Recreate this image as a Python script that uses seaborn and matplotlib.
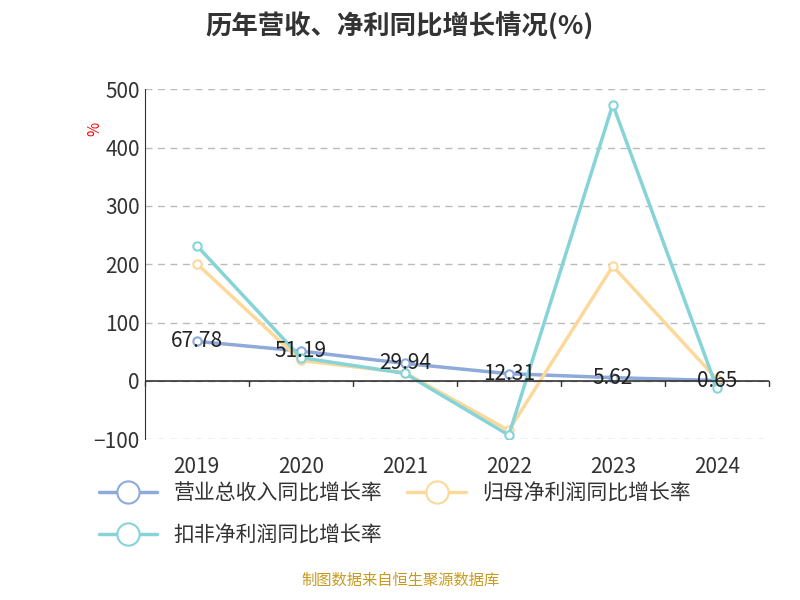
import matplotlib.pyplot as plt
import seaborn as sns
import pandas as pd
from matplotlib.lines import Line2D

sns.set_style("white")
plt.rcParams['font.family'] = ['Noto Sans CJK SC', 'DejaVu Sans']

years = ["2019", "2020", "2021", "2022", "2023", "2024"]
revenue = [67.78, 51.19, 29.94, 12.31, 5.62, 0.65]
net_profit = [201, 35, 14, -85, 197, 3]
deducted = [232, 40, 13, -93, 474, -12]
names = ["营业总收入同比增长率", "归母净利润同比增长率", "扣非净利润同比增长率"]
colors = ["#8eaadb", "#fcd99b", "#86d4d8"]

df = pd.DataFrame({"year": list(range(len(years))) * 3,
                   "value": revenue + net_profit + deducted,
                   "series": sum([[n] * len(years) for n in names], [])})

fig = plt.figure(figsize=(8, 6), dpi=100)
ax = fig.add_axes([0.181, 0.268, 0.78, 0.583])
for name, c in zip(names, colors):
    sub = df[df.series == name]
    sns.lineplot(data=sub, x="year", y="value", ax=ax, color=c, lw=2.5,
                 marker="o", markersize=6, markerfacecolor="white",
                 markeredgecolor=c, markeredgewidth=1.5, legend=False)

for i, v in enumerate(revenue):
    ax.text(i, v, f"{v:.2f}", ha="center", va="center", fontsize=15, color="#222")

ax.set_xlim(-0.5, 5.5)
ax.set_ylim(-100, 500)
ax.set_yticks(range(-100, 501, 100))
ax.set_xticks(range(6))
ax.set_xticklabels(years)
ax.tick_params(labelsize=15, colors="#333", length=0)
ax.tick_params(axis="x", pad=12)
ax.yaxis.grid(True, ls=(0, (5, 4)), color="#bbb", lw=1)
for s in ["top", "right", "bottom"]:
    ax.spines[s].set_visible(False)
ax.spines["left"].set_color("#333")
ax.axhline(0, color="#333", lw=1.2)
for i in range(7):
    ax.plot([i - 0.5, i - 0.5], [0, -8], color="#333", lw=1, clip_on=False)
ax.set_xlabel("")
ax.set_ylabel("")
fig.text(0.108, 0.78, "%", color="red", fontsize=11, rotation=90)

fig.text(0.5, 0.955, "历年营收、净利同比增长情况(%)", ha="center", va="center",
         fontsize=19, fontweight="bold", color="#333")

handles = [Line2D([], [], color=c, lw=2.5, marker="o", markersize=16,
                  markerfacecolor="white", markeredgecolor=c, markeredgewidth=1.5)
           for c in colors]
fig.legend(handles[:2], names[:2], loc="center left", bbox_to_anchor=(0.1, 0.178),
           ncol=2, frameon=False, fontsize=15, handlelength=2.8, columnspacing=1.2,
           labelcolor="#333")
fig.legend(handles[2:], names[2:], loc="center left", bbox_to_anchor=(0.1, 0.108),
           frameon=False, fontsize=15, handlelength=2.8, labelcolor="#333")

fig.text(0.5, 0.018, "制图数据来自恒生聚源数据库", ha="center", va="bottom",
         fontsize=11, color="#c89b1e")

fig.savefig("out.png")
